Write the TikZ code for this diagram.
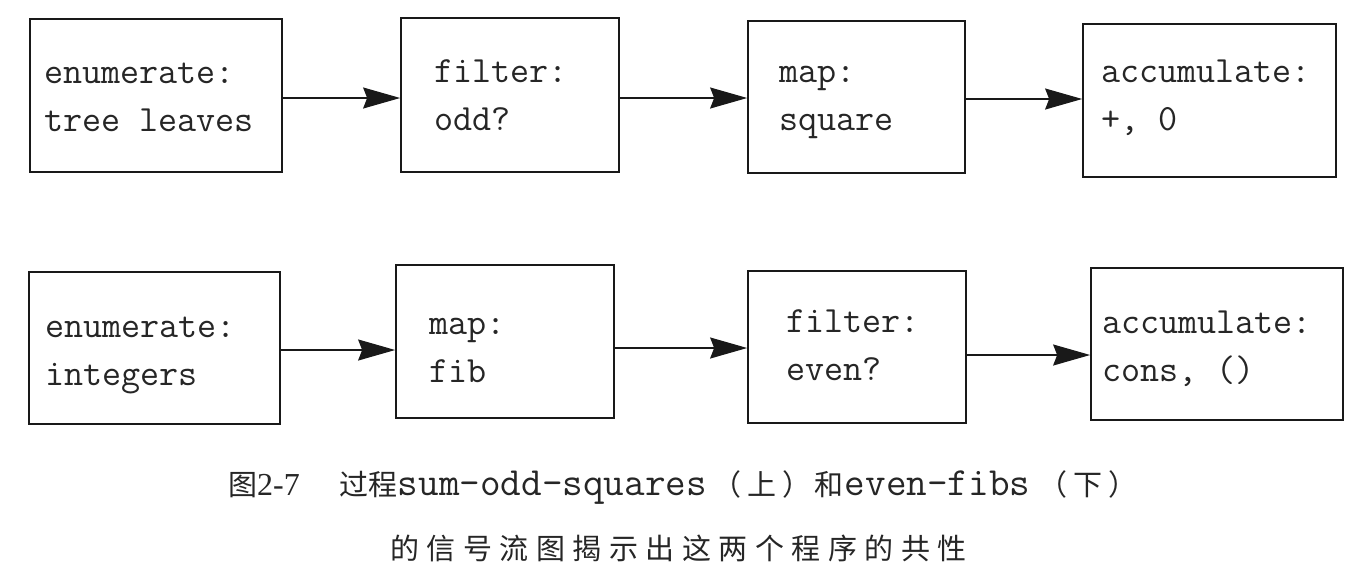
\documentclass[tikz,border=0pt]{standalone}
\usepackage{fontspec}
\newfontfamily\cjkfont{Noto Sans CJK SC}
\newfontfamily\numfont{Liberation Serif}
\usetikzlibrary{arrows.meta}
\newcommand\csp{\hspace{7.5pt}}
\newcommand\capmono[1]{{\ttfamily\fontsize{40}{40}\selectfont #1}}
\begin{document}
\begin{tikzpicture}[x=1pt,y=-1pt,
  box/.style={draw=black!90, line width=1.7pt, inner sep=0pt},
  code/.style={inner sep=0pt, anchor=base west, font=\ttfamily\fontsize{37}{44}\selectfont, text=black!85},
  arr/.style={line width=1.7pt, draw=black!90, -{Stealth[length=37pt,width=21pt,inset=4pt]}},
  captext/.style={inner sep=0pt, anchor=base west, text=black!85}]
\useasboundingbox[fill=white] (0,0) rectangle (1357,576);

% top row boxes
\node[box, minimum width=252pt, minimum height=153pt] (b1) at (156,95.5) {};
\node[box, minimum width=218pt, minimum height=154pt] (b2) at (510,95) {};
\node[box, minimum width=217pt, minimum height=152pt] (b3) at (856.5,97) {};
\node[box, minimum width=253pt, minimum height=153pt] (b4) at (1209.5,100.5) {};
% bottom row boxes
\node[box, minimum width=251pt, minimum height=152pt] (b5) at (154.5,348) {};
\node[box, minimum width=218pt, minimum height=153pt] (b6) at (505,341.5) {};
\node[box, minimum width=218pt, minimum height=152pt] (b7) at (857,347) {};
\node[box, minimum width=252pt, minimum height=152pt] (b8) at (1217,344) {};

% texts top row
\node[code] (t1a) at (44,83) {enumerate:};
\node[code] (t1b) at (44,131) {tree leaves};
\node[code] (t2a) at (434,82) {filter:};
\node[code] (t2b) at (434,130) {odd?};
\node[code] (t3a) at (779,82) {map:};
\node[code] (t3b) at (779,130) {square};
\node[code] (t4a) at (1101,82) {accumulate:};
\node[code] (t4b) at (1101,130) {+, 0};
% texts bottom row
\node[code] (t5a) at (45,337) {enumerate:};
\node[code] (t5b) at (45,385) {integers};
\node[code] (t6a) at (429,334) {map:};
\node[code] (t6b) at (429,382) {fib};
\node[code] (t7a) at (786,332) {filter:};
\node[code] (t7b) at (786,380) {even?};
\node[code] (t8a) at (1102,333) {accumulate:};
\node[code] (t8b) at (1102,381) {cons, ()};

% arrows
\coordinate (a1) at ([yshift=-2.5pt]b1.east);
\coordinate (a2) at ([yshift=-3pt]b2.east);
\coordinate (a3) at ([yshift=-2pt]b3.east);
\coordinate (a4) at ([yshift=-2pt]b5.east);
\coordinate (a5) at ([yshift=-6.5pt]b6.east);
\coordinate (a6) at ([yshift=-8pt]b7.east);
\draw[arr] (a1) -- (a1 -| b2.west);
\draw[arr] (a2) -- (a2 -| b3.west);
\draw[arr] (a3) -- (a3 -| b4.west);
\draw[arr] (a4) -- (a4 -| b6.west);
\draw[arr] (a5) -- (a5 -| b7.west);
\draw[arr] (a6) -- (a6 -| b8.west);

% caption
\node[captext] (c1) at (228,495) {\cjkfont\fontsize{29}{35}\selectfont 图{\numfont\fontsize{32}{35}\selectfont 2-7}\hspace{40pt}过程\capmono{sum-odd-squares}\hspace{6pt}（\hspace{6pt}上\hspace{6pt}）\hspace{3pt}和\hspace{1pt}\capmono{even-fibs}\hspace{8pt}（\hspace{6pt}下\hspace{6pt}）};
\node[captext] (c2) at (390,559) {\cjkfont\fontsize{29}{35}\selectfont 的\csp 信\csp 号\csp 流\csp 图\csp 揭\csp 示\csp 出\csp 这\csp 两\csp 个\csp 程\csp 序\csp 的\csp 共\csp 性};
\end{tikzpicture}
\end{document}
